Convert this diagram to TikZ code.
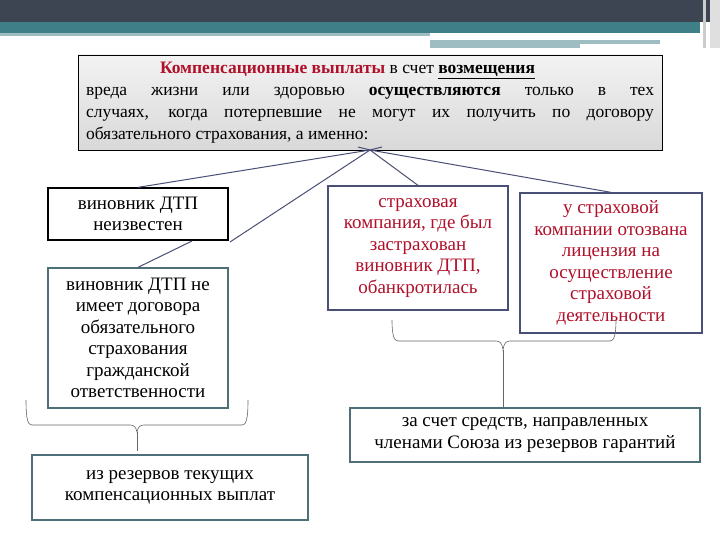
\documentclass[tikz,border=0pt]{standalone}
\usepackage{fontspec}
\setmainfont{Liberation Serif}
\definecolor{darkbar}{HTML}{3D4452}
\definecolor{tealbar}{HTML}{3F7F88}
\definecolor{lteal}{HTML}{9DBDC2}
\definecolor{redtxt}{HTML}{B0102A}
\definecolor{edgeblue}{HTML}{4A4F75}
\definecolor{boxedge}{HTML}{4E6E78}
\tikzset{
  box/.style={draw=boxedge, line width=1.3pt, fill=white, align=center, font=\fontsize{19}{21.5}\selectfont, inner sep=2pt},
  conn/.style={edgeblue, line width=1pt},
  brc/.style={draw=gray!80!black, line width=0.6pt},
}
\begin{document}
\begin{tikzpicture}[x=1pt,y=-1pt]
\useasboundingbox (0,0) rectangle (720,540);
\fill[white] (0,0) rectangle (720,540);
% header
\fill[darkbar] (0,0) rectangle (720,22);
\fill[tealbar] (0,22) rectangle (700,33);
\fill[lteal] (0,33) rectangle (430,36);
\fill[lteal] (430,40) rectangle (660,44);
\fill[lteal] (430,44) rectangle (580,48);
\fill[gray!40] (703,0) rectangle (706,48);
\fill[gray!25] (710,0) rectangle (720,48);
% top box
\node[draw=black, line width=0.8pt, top color=gray!10, bottom color=gray!30, minimum width=584, minimum height=95, inner sep=0pt] (top) at (370,102.5) {};
\node[text width=568, align=justify, font=\fontsize{17.5}{22}\selectfont, inner sep=0pt] (toptext) at (370,103) {\hspace*{74pt}\textcolor{redtxt}{\textbf{Компенсационные выплаты}} в~счет \textbf{\underline{возмещения}}\\ вреда жизни или здоровью \textbf{осуществляются} только в тех\linebreak случаях, когда потерпевшие не могут их получить по договору\linebreak обязательного страхования, а именно:};
\coordinate (hub) at (370,150);
\node[box, draw=black, minimum width=180, minimum height=52] (b1) at (138,214) {виновник ДТП\\неизвестен};
\node[box, minimum width=180, minimum height=140] (b2) at (138,338) {виновник ДТП не\\имеет договора\\обязательного\\страхования\\гражданской\\ответственности};
\node[box, draw=edgeblue, text=redtxt, minimum width=180, minimum height=124] (b3) at (418,248) {страховая\\компания, где был\\застрахован\\виновник ДТП,\\обанкротилась};
\node[box, draw=edgeblue, text=redtxt, minimum width=182, minimum height=140] (b4) at (611,263) {у страховой\\компании отозвана\\лицензия на\\осуществление\\страховой\\деятельности};
\node[box, minimum width=350, minimum height=54] (b5) at (525,435) {за счет средств, направленных\\членами Союза из резервов гарантий};
\node[box, minimum width=276, minimum height=65] (b6) at (170,487.5) {из резервов текущих\\компенсационных выплат};
\draw[conn] (hub) -- (b1.north);
\draw[conn] (hub) -- (230,242);
\draw[conn] (192,241) coordinate (c1) -- (b2.north);
\draw[conn] (hub) -- (b3.north);
\draw[conn] (hub) -- (b4.north);
\draw[conn] (358,147) -- (hub) -- (382,147);
% braces
\draw[brc] (26,400) .. controls (26,420) and (28,425) .. (32,425) -- (130,425) .. controls (134,425) and (136,427) .. (137,432) .. controls (138,427) and (140,425) .. (144,425) -- (242,425) .. controls (246,425) and (248,420) .. (248,400);
\draw[brc] (137,432) -- (137,451);
\draw[brc] (392,320) .. controls (392,335) and (394,341) .. (398,341) -- (496,341) .. controls (500,341) and (502,343) .. (503,350) .. controls (504,343) and (506,341) .. (510,341) -- (610,341) .. controls (614,341) and (616,335) .. (616,320);
\draw[brc] (503,350) -- (503,407);
\end{tikzpicture}
\end{document}
